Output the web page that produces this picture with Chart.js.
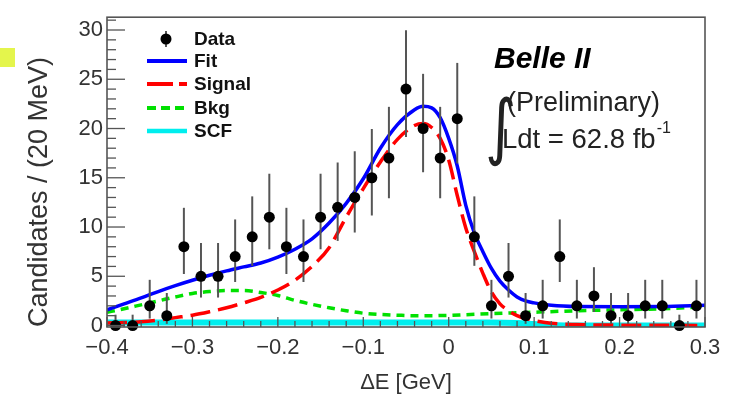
<!DOCTYPE html>
<html><head><meta charset="utf-8">
<script src="https://cdn.jsdelivr.net/npm/chart.js@4.4.1/dist/chart.umd.min.js"></script>
<style>
html,body{margin:0;padding:0;background:#fff;}
#wrap{position:relative;width:731px;height:396px;}
#mark{position:absolute;left:0;top:48px;width:15px;height:19px;background:#e4f54c;}
</style></head><body>
<div id="wrap"><canvas id="c" width="731" height="396"></canvas><div id="mark"></div></div>
<script>
// ---- data ----
const binCenters = [-0.39,-0.37,-0.35,-0.33,-0.31,-0.29,-0.27,-0.25,-0.23,-0.21,-0.19,-0.17,-0.15,-0.13,-0.11,-0.09,-0.07,-0.05,-0.03,-0.01,0.01,0.03,0.05,0.07,0.09,0.11,0.13,0.15,0.17,0.19,0.21,0.23,0.25,0.27,0.29];
const counts     = [0,0,2,1,8,5,5,7,9,11,8,7,11,12,13,15,17,24,20,17,21,9,2,5,1,2,7,2,3,1,1,2,2,0,2];
const errLow     = [0,0,1.29,0.83,2.77,2.16,2.16,2.58,2.94,3.26,2.77,2.58,3.26,3.41,3.56,3.83,4.08,4.86,4.44,4.08,4.55,2.94,1.29,2.16,0.83,1.29,2.58,1.29,1.63,0.83,0.83,1.29,1.29,0,1.29];
const errHigh    = [1.1,1.1,2.64,2.3,3.95,3.38,3.38,3.77,4.11,4.41,3.95,3.77,4.41,4.55,4.69,4.95,5.2,5.97,5.55,5.2,5.66,4.11,2.64,3.38,2.3,2.64,3.77,2.64,2.92,2.3,2.3,2.64,2.64,1.1,2.64];

const fitX = [-0.40,-0.38,-0.36,-0.34,-0.32,-0.30,-0.28,-0.26,-0.24,-0.22,-0.20,-0.18,-0.16,-0.14,-0.12,-0.10,-0.08,-0.06,-0.04,-0.03,-0.02,-0.01,0.00,0.01,0.02,0.03,0.04,0.05,0.06,0.07,0.08,0.09,0.10,0.12,0.15,0.20,0.25,0.30];
const fitY = [1.6,2.2,2.8,3.45,4.05,4.6,5.1,5.55,5.95,6.35,6.95,7.75,8.8,10.4,12.4,14.9,18.0,20.4,21.9,22.25,22.1,21.1,19.0,16.2,12.2,9.4,7.5,5.8,4.5,3.6,2.9,2.5,2.3,2.05,1.92,1.9,1.92,2.05];

const sigX = [-0.40,-0.38,-0.36,-0.34,-0.32,-0.30,-0.28,-0.26,-0.24,-0.22,-0.20,-0.18,-0.16,-0.14,-0.12,-0.10,-0.08,-0.06,-0.04,-0.03,-0.02,-0.01,0.00,0.01,0.02,0.03,0.04,0.05,0.06,0.07,0.08,0.09,0.10,0.12,0.15,0.20,0.30];
const sigY = [0.26,0.3,0.38,0.55,0.8,1.05,1.4,1.8,2.3,2.85,3.6,4.6,6.0,7.9,11.0,13.9,16.6,18.9,20.3,20.5,20.1,19.0,16.8,13.2,9.9,7.5,5.3,3.4,2.2,1.5,1.0,0.7,0.5,0.22,0.1,0.04,0.01];

const bkgX = [-0.40,-0.38,-0.36,-0.34,-0.32,-0.30,-0.28,-0.26,-0.24,-0.22,-0.20,-0.18,-0.16,-0.14,-0.12,-0.10,-0.08,-0.06,-0.04,-0.02,0.00,0.02,0.05,0.10,0.15,0.20,0.25,0.30];
const bkgY = [1.35,1.7,2.1,2.5,2.9,3.25,3.45,3.55,3.55,3.35,3.05,2.55,2.15,1.8,1.5,1.25,1.12,1.05,1.0,1.0,1.03,1.1,1.2,1.35,1.5,1.6,1.7,1.9];

const scfX = [-0.40,-0.20,0.00,0.05,0.08,0.10,0.12,0.14,0.30];
const scfY = [0.3,0.3,0.3,0.3,0.25,0.15,0.05,0.0,0.0];

const xTickValues = [-0.4,-0.3,-0.2,-0.1,0,0.1,0.2,0.3];
const xTickLabels = ["\u22120.4","\u22120.3","\u22120.2","\u22120.1","0","0.1","0.2","0.3"];
const yTickValues = [0,5,10,15,20,25,30];
const yTickLabels = ["0","5","10","15","20","25","30"];

const legendLabels = ["Data","Fit","Signal","Bkg","SCF"];

// ---- styling ----
const FONT = '"Liberation Sans", Arial, Helvetica, sans-serif';
const C_FIT = '#0000ff', C_SIG = '#ff0000', C_BKG = '#00e000', C_SCF = '#00eeee';
const pts = (xs, ys) => xs.map((x, i) => ({x, y: ys[i]}));

const rootPlugin = {
  id: 'rootStyle',
  beforeDatasetDraw(chart, args) {
    if (args.index !== 0) return;
    const ctx = chart.ctx, xs = chart.scales.x, ys = chart.scales.y;
    ctx.save();
    ctx.strokeStyle = '#555';
    ctx.lineWidth = 2;
    binCenters.forEach((x, i) => {
      const px = xs.getPixelForValue(x);
      ctx.beginPath();
      ctx.moveTo(px, ys.getPixelForValue(counts[i] - errLow[i]));
      ctx.lineTo(px, ys.getPixelForValue(counts[i] + errHigh[i]));
      ctx.stroke();
    });
    ctx.restore();
  },
  afterDatasetsDraw(chart) {
    const ctx = chart.ctx, xs = chart.scales.x, ys = chart.scales.y, a = chart.chartArea;
    ctx.save();
    // frame
    ctx.strokeStyle = '#555';
    ctx.lineWidth = 1.6;
    ctx.strokeRect(a.left, a.top, a.right - a.left, a.bottom - a.top);
    // x ticks (inward)
    ctx.lineWidth = 1.3;
    for (let k = 0; k <= 35; k++) {
      const v = -0.4 + k * 0.02;
      const px = xs.getPixelForValue(v);
      const len = (k % 5 === 0) ? 10 : 6;
      ctx.beginPath(); ctx.moveTo(px, a.bottom); ctx.lineTo(px, a.bottom - len); ctx.stroke();
    }
    // y ticks (inward)
    for (let v = 0; v <= 31; v++) {
      const py = ys.getPixelForValue(v);
      const len = (v % 5 === 0) ? 18 : 9;
      ctx.beginPath(); ctx.moveTo(a.left, py); ctx.lineTo(a.left + len, py); ctx.stroke();
    }
    // axis titles
    ctx.fillStyle = '#333';
    ctx.font = '22px ' + FONT;
    ctx.textAlign = 'center';
    ctx.textBaseline = 'alphabetic';
    ctx.fillText('\u0394E [GeV]', (a.left + a.right) / 2, 389);
    ctx.save();
    ctx.translate(47, 192);
    ctx.rotate(-Math.PI / 2);
    ctx.font = '27px ' + FONT;
    ctx.fillText('Candidates / (20 MeV)', 0, 0);
    ctx.restore();

    // legend
    const lx0 = 147, lx1 = 187, tx = 194;
    const rows = [39, 61, 84, 108, 131];
    ctx.textAlign = 'left';
    ctx.textBaseline = 'middle';
    ctx.font = 'bold 19px ' + FONT;
    ctx.fillStyle = '#111';
    legendLabels.forEach((t, i) => ctx.fillText(t, tx, rows[i] + 1));
    // data marker
    ctx.strokeStyle = '#555'; ctx.lineWidth = 2;
    ctx.beginPath(); ctx.moveTo(166, rows[0] - 8); ctx.lineTo(166, rows[0] + 8); ctx.stroke();
    ctx.fillStyle = '#000';
    ctx.beginPath(); ctx.arc(166, rows[0], 5.5, 0, Math.PI * 2); ctx.fill();
    const seg = (y, col, w, dash) => {
      ctx.strokeStyle = col; ctx.lineWidth = w; ctx.setLineDash(dash);
      ctx.beginPath(); ctx.moveTo(lx0, y); ctx.lineTo(lx1, y); ctx.stroke();
      ctx.setLineDash([]);
    };
    seg(rows[1], C_FIT, 4, []);
    seg(rows[2], C_SIG, 4, [26, 6]);
    seg(rows[3], C_BKG, 4, [9, 5]);
    seg(rows[4], C_SCF, 4.5, []);

    // annotations
    ctx.fillStyle = '#000';
    ctx.textBaseline = 'alphabetic';
    ctx.font = 'italic bold 30px ' + FONT;
    ctx.fillText('Belle II', 494, 68);
    ctx.fillStyle = '#222';
    ctx.font = '27px ' + FONT;
    ctx.fillText('(Preliminary)', 507, 111);
    ctx.font = '27.5px ' + FONT;
    const lum = 'Ldt = 62.8 fb';
    ctx.fillText(lum, 502, 148);
    const lw = ctx.measureText(lum).width;
    ctx.font = '16px ' + FONT;
    ctx.fillText('-1', 502 + lw + 1, 133);
    ctx.save();
    ctx.translate(485, 151);
    ctx.scale(1, 1.2);
    ctx.font = '60px "DejaVu Sans"';
    ctx.fillText('\u222B', 0, 0);
    ctx.restore();
    ctx.restore();
  }
};

new Chart(document.getElementById('c'), {
  type: 'line',
  data: {
    datasets: [
      { label: 'Data', type: 'scatter', data: pts(binCenters, counts), pointRadius: 5.5, pointHoverRadius: 5.5,
        pointBackgroundColor: '#000', pointBorderColor: '#000', pointBorderWidth: 0, showLine: false, clip: false },
      { label: 'Fit', data: pts(fitX, fitY), borderColor: C_FIT, borderWidth: 3.5, pointRadius: 0, cubicInterpolationMode: 'monotone', fill: false },
      { label: 'Signal', data: pts(sigX, sigY), borderColor: C_SIG, borderWidth: 3.5, borderDash: [20, 8], pointRadius: 0, cubicInterpolationMode: 'monotone', fill: false },
      { label: 'Bkg', data: pts(bkgX, bkgY), borderColor: C_BKG, borderWidth: 3.5, borderDash: [8, 6], pointRadius: 0, cubicInterpolationMode: 'monotone', fill: false },
      { label: 'SCF', data: pts(scfX, scfY), borderColor: C_SCF, borderWidth: 6, pointRadius: 0, cubicInterpolationMode: 'monotone', fill: false }
    ]
  },
  options: {
    responsive: false, animation: false, devicePixelRatio: 1,
    layout: { padding: { top: 7, right: 26, left: 0, bottom: 0 } },
    plugins: { legend: { display: false }, tooltip: { enabled: false } },
    scales: {
      x: {
        type: 'linear', min: -0.4, max: 0.3,
        grid: { display: false, drawTicks: false }, border: { display: false },
        afterBuildTicks: s => { s.ticks = xTickValues.map(v => ({ value: v })); },
        afterFit: s => { s.height = 69; },
        ticks: { font: { family: FONT, size: 22 }, color: '#333', padding: 8, maxRotation: 0, minRotation: 0, autoSkip: false,
          callback: (v, i) => xTickLabels[i] }
      },
      y: {
        type: 'linear', min: -0.15, max: 31.3,
        grid: { display: false, drawTicks: false }, border: { display: false },
        afterBuildTicks: s => { s.ticks = yTickValues.map(v => ({ value: v })); },
        afterFit: s => { s.width = 107; },
        ticks: { font: { family: FONT, size: 22 }, color: '#333', padding: 4, autoSkip: false,
          callback: (v, i) => yTickLabels[i] }
      }
    }
  },
  plugins: [rootPlugin]
});
</script>
</body></html>
